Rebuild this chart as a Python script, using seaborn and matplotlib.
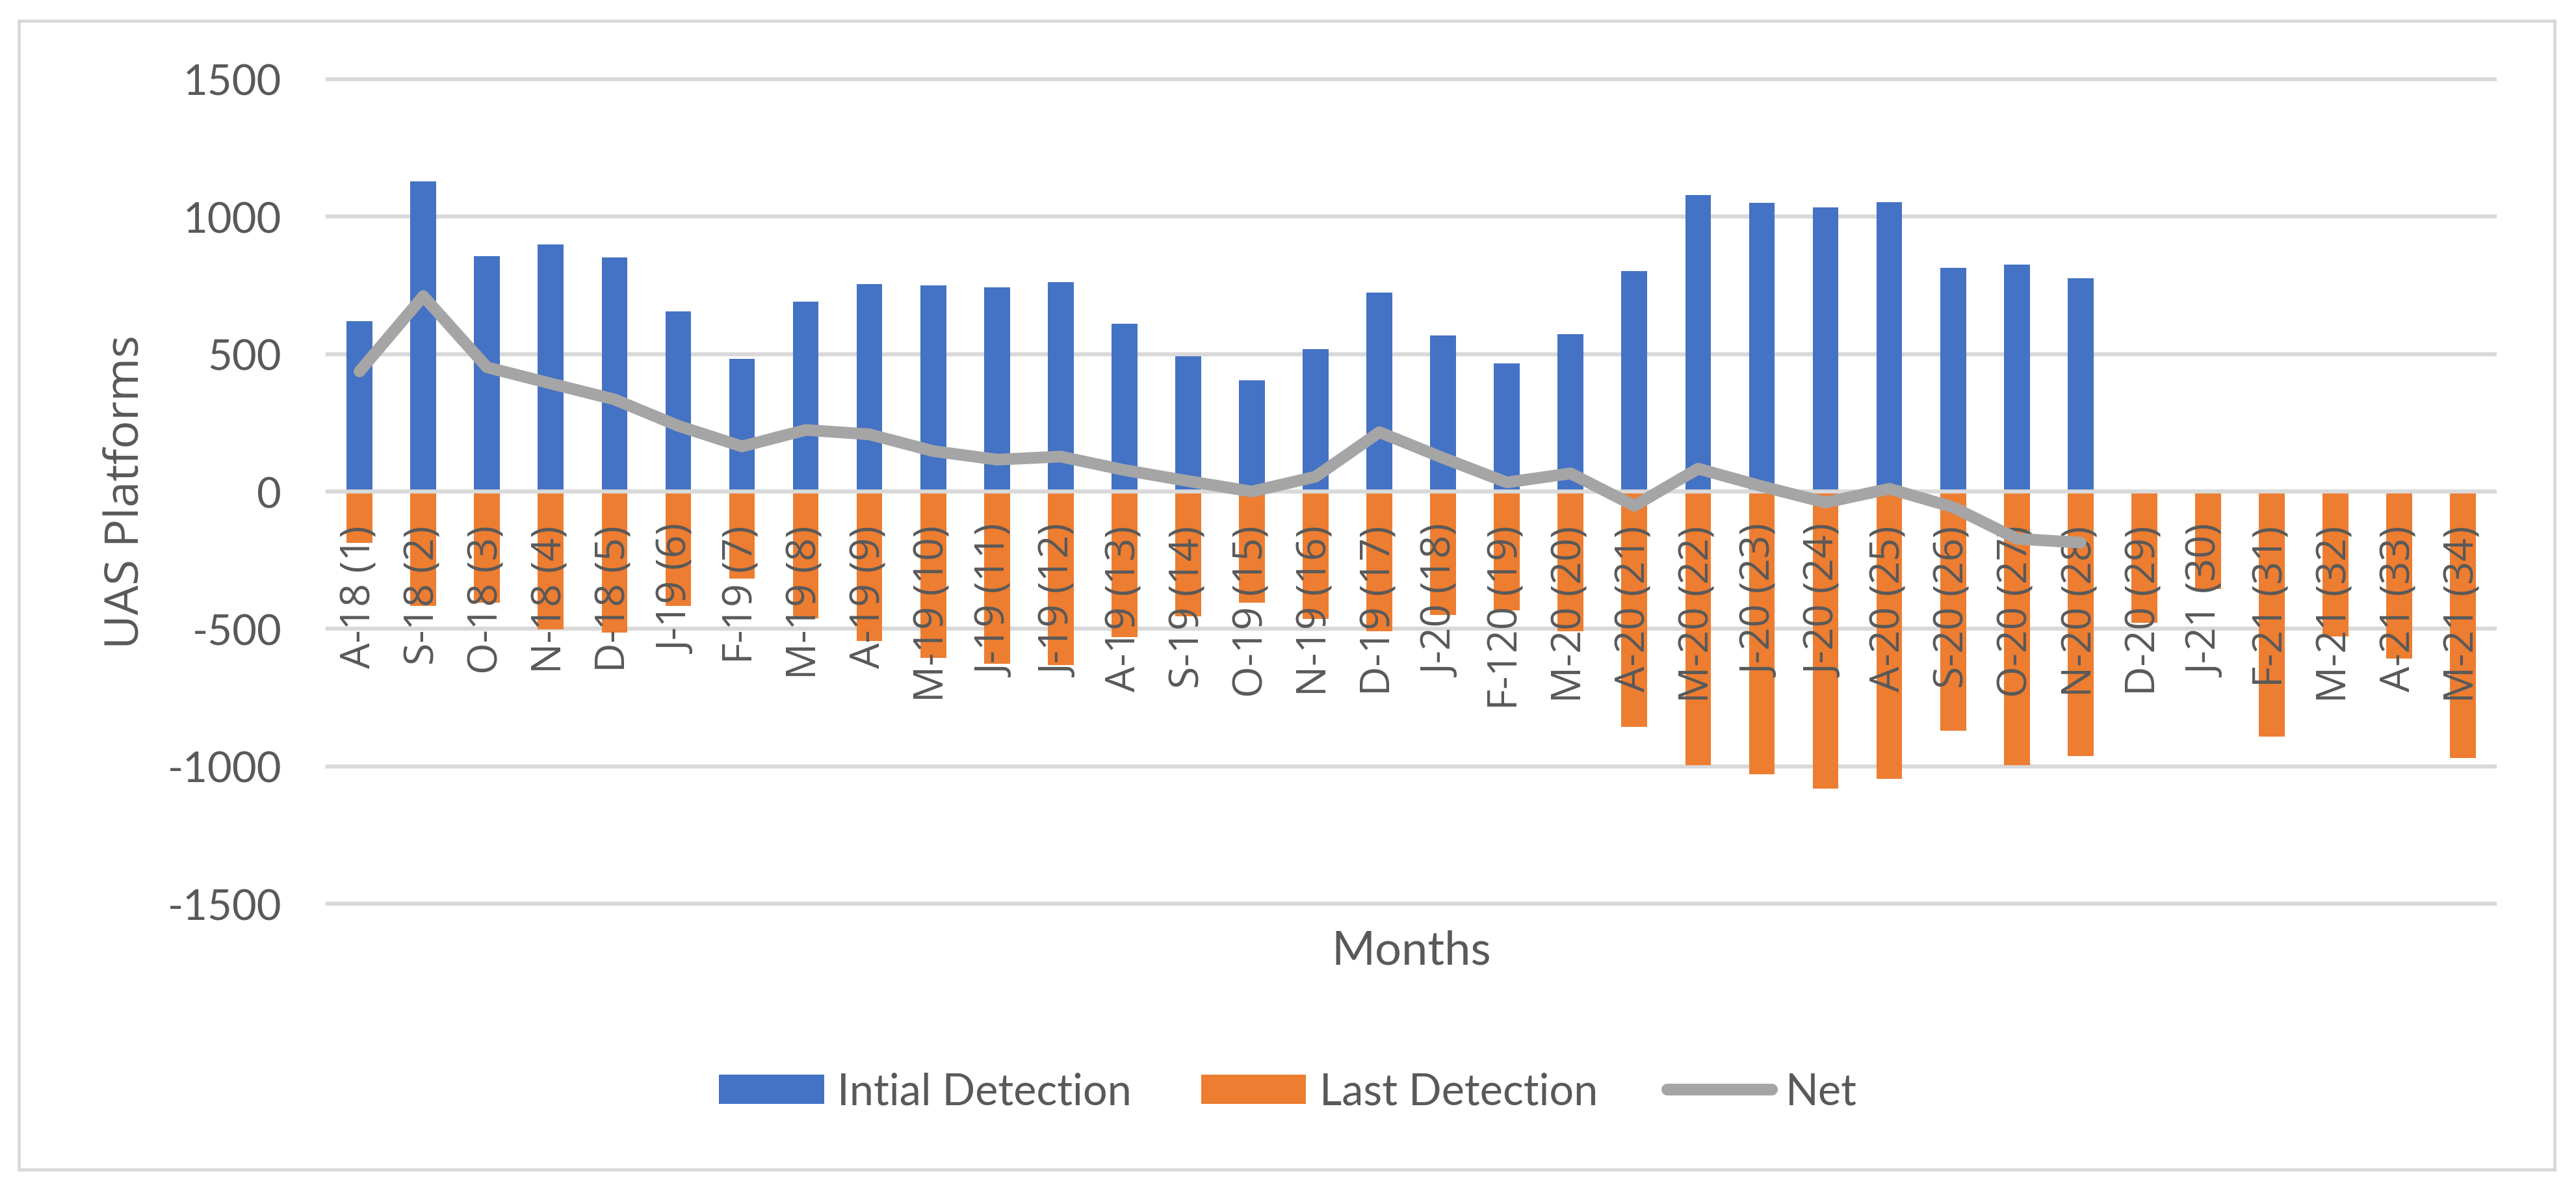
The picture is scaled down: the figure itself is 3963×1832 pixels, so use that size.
# UAS platforms: initial vs last detection per month, with net line
import seaborn as sns
import matplotlib.pyplot as plt
import pandas as pd
from matplotlib.patches import Rectangle

plt.rcParams["axes.unicode_minus"] = False

# Data
months = ["A-18 (1)", "S-18 (2)", "O-18 (3)", "N-18 (4)", "D-18 (5)", "J-19 (6)",
          "F-19 (7)", "M-19 (8)", "A-19 (9)", "M-19 (10)", "J-19 (11)", "J-19 (12)",
          "A-19 (13)", "S-19 (14)", "O-19 (15)", "N-19 (16)", "D-19 (17)", "J-20 (18)",
          "F-120 (19)", "M-20 (20)", "A-20 (21)", "M-20 (22)", "J-20 (23)", "J-20 (24)",
          "A-20 (25)", "S-20 (26)", "O-20 (27)", "N-20 (28)", "D-20 (29)", "J-21 (30)",
          "F-21 (31)", "M-21 (32)", "A-21 (33)", "M-21 (34)"]

initial = [620, 1128, 856, 898, 851, 656, 482, 690, 754, 751, 742, 761, 610, 492,
           404, 518, 723, 569, 465, 573, 802, 1079, 1050, 1035, 1054, 813, 825, 777]

last = [-186, -416, -404, -501, -514, -416, -318, -462, -545, -605, -628, -632,
        -530, -455, -405, -464, -509, -450, -434, -509, -856, -995, -1030, -1080,
        -1046, -871, -997, -963, -477, -355, -893, -527, -609, -970]

net = [437, 711, 452, 393, 335, 239, 164, 224, 208, 147, 116, 127, 78, 38,
       0, 54, 216, 122, 33, 66, -52, 83, 19, -40, 10, -57, -172, -186]

BLUE = "#4472C4"
ORANGE = "#ED7D31"
GRAY = "#A5A5A5"
TEXT = "#595959"
GRID = "#D9D9D9"

df_init = pd.DataFrame({"Month": months[:len(initial)], "Value": initial})
df_last = pd.DataFrame({"Month": months, "Value": last})
df_net = pd.DataFrame({"Month": months[:len(net)], "Value": net})

fig = plt.figure(figsize=(39.63, 18.33), dpi=100)
ax = fig.add_axes([0.1272, 0.2411, 0.8413, 0.6918])

# ---------------------------
# bars (fully overlapping, Excel style)
sns.barplot(data=df_init, x="Month", y="Value", order=months, color=BLUE,
            saturation=1, width=0.405, errorbar=None, linewidth=0,
            label="Intial Detection", ax=ax)
sns.barplot(data=df_last, x="Month", y="Value", order=months, color=ORANGE,
            saturation=1, width=0.405, errorbar=None, linewidth=0,
            label="Last Detection", ax=ax)

ax.axhline(0, color=GRID, lw=4.5, zorder=2)

# ---------------------------
# net line
sns.lineplot(data=df_net, x="Month", y="Value", sort=False, color=GRAY,
             lw=13, label="Net", ax=ax, zorder=3)
ax.lines[-1].set_solid_capstyle("round")
ax.lines[-1].set_solid_joinstyle("round")

if ax.get_legend() is not None:
    ax.get_legend().remove()

# ---------------------------
# axes styling
ax.set_ylim(-1500, 1500)
ax.set_xlim(-0.5, len(months) - 0.5)
ax.set_yticks(range(-1500, 1501, 500))
ax.yaxis.grid(True, color=GRID, lw=4.5)
ax.set_axisbelow(True)
# gridlines behind the bars, month labels on top of them (line still on top)
ax.yaxis.set_zorder(0.5)
ax.xaxis.set_zorder(2.5)
for gl in ax.get_ygridlines():
    gl.set_clip_on(False)
for side in ["top", "right", "left", "bottom"]:
    ax.spines[side].set_visible(False)
ax.spines["bottom"].set_position(("data", 0))

ax.tick_params(axis="y", length=0, pad=51, labelsize=47, labelcolor=TEXT)
ax.tick_params(axis="x", length=0, pad=37, labelsize=45, labelcolor=TEXT,
               rotation=90)
for t in ax.get_yticklabels():
    t.set_fontfamily("Lato")
for t in ax.get_xticklabels():
    t.set_fontfamily("Open Sans")

ax.set_xlabel("Months", fontsize=52, color=TEXT, fontfamily="Lato")
ax.xaxis.set_label_coords(0.5, -0.031)
ax.set_ylabel("UAS Platforms", fontsize=52, color=TEXT, fontfamily="Open Sans")
ax.yaxis.set_label_coords(-0.082, 0.5)

# ---------------------------
# legend at the bottom, centred on the chart
handles, labels = ax.get_legend_handles_labels()
lookup = dict(zip(labels, handles))
names = ["Intial Detection", "Last Detection", "Net"]
fig.legend([lookup[n] for n in names], names, loc="center",
           bbox_to_anchor=(0.5, 0.083), ncol=3, frameon=False,
           prop={"family": "Lato", "size": 48}, labelcolor=TEXT,
           handlelength=2.42, handleheight=0.65, handletextpad=0.31,
           columnspacing=1.6)

# chart border
fig.add_artist(Rectangle((29 / 3963, 1 - 1800 / 1833), (3930 - 29) / 3963,
                         (1800 - 33) / 1833, transform=fig.transFigure,
                         fill=False, edgecolor=GRID, lw=3.6))

fig.savefig("out.png", dpi=100, facecolor="white")
